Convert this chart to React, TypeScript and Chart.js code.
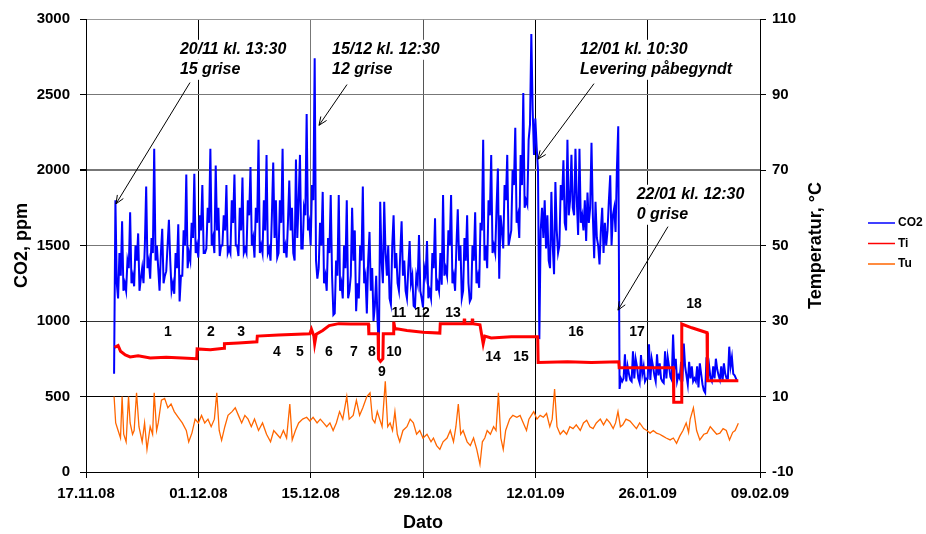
import React, { useEffect, useRef } from 'react';
import { Chart, registerables } from 'chart.js';
Chart.register(...registerables);

const FONT = "'Liberation Sans', Arial, Helvetica, sans-serif";

// x axis: days since 17.11.08
const xTickLabels = ['17.11.08', '01.12.08', '15.12.08', '29.12.08', '12.01.09', '26.01.09', '09.02.09'];

// CO2 (ppm), sampled every 4 h starting 20/11 12:00 (day 3.5)
const co2Start = 3.5;
const co2Step = 1 / 6;
const co2Vals = [
  650, 1800, 1250,
  1150, 1450, 1300, 1660, 1200, 1250,
  1200, 1400, 1350, 1720, 1250, 1300,
  1230, 1500, 1400, 1580, 1200, 1280,
  1350, 1250, 1500, 1890, 1350, 1400,
  1280, 1550, 1450, 2140, 1400, 1500,
  1350, 1200, 1450, 1610, 1250, 1300,
  1330, 1500, 1670, 1400, 1200, 1250,
  1180, 1450, 1350, 1640, 1130, 1300,
  1300, 1600, 1500, 1970, 1350, 1450,
  1400, 1650, 1550, 1975, 1450, 1500,
  1420, 1700, 1600, 1900, 1450, 1450,
  1480, 1750, 1650, 2140, 1500, 1550,
  1450, 2030, 1600, 1750, 1430, 1500,
  1500, 1700, 1600, 1900, 1450, 1480,
  1450, 1800, 1650, 1970, 1500, 1500,
  1430, 1750, 1600, 1950, 1450, 1480,
  1450, 1800, 1700, 2020, 1500, 1550,
  1420, 1750, 1650, 2200, 1450, 1500,
  1450, 1800, 1600, 2100, 1450, 1480,
  1400, 1700, 2050, 1550, 1800, 1420,
  1450, 1800, 1650, 2140, 1450, 1500,
  1420, 1650, 1930, 1600, 1750, 1450,
  1400, 2070, 1550, 1800, 2100, 1480,
  1480, 1750, 1700, 2370, 1600, 1650,
  1500, 1900, 1800, 2740, 1400, 1280,
  1350, 1650, 1500, 1855, 1250, 1300,
  1200, 1550, 1450, 1835, 1300, 1040,
  1050, 1400, 1300, 1835, 1200, 1250,
  1150, 1500, 1350, 1800, 1150, 1200,
  1300, 1750, 1400, 1600, 1065, 1250,
  1150, 1500, 1400, 1890, 1250, 1300,
  1050, 1400, 1590, 1200, 1350, 1000,
  1100, 1300, 1000, 800, 1790, 1400,
  1250, 1790, 1450, 1300, 1500, 1150,
  1110, 1500, 1700, 1350, 1450, 1250,
  1200, 1450, 1660, 1300, 1400, 1200,
  1150, 1350, 1530, 1250, 1300, 1100,
  1090, 1300, 1250, 1570, 1200, 1150,
  1090, 1350, 1300, 1530, 1150, 1200,
  1150, 1450, 1350, 1680, 1200, 1250,
  1200, 1450, 1240, 1835, 1300, 1350,
  1300, 1600, 1500, 1835, 1250, 1300,
  1200, 1500, 1740, 1400, 1500, 1150,
  1200, 1550, 1400, 1700, 1250, 1130,
  1150, 1500, 1400, 1720, 1250, 1300,
  1220, 1650, 1600, 2200, 1400, 1500,
  1350, 1800, 1700, 2100, 1450, 1500,
  1450, 1750, 2010, 1280, 1700, 1600,
  1480, 1900, 1800, 2100, 1500, 1550,
  1600, 2000, 1900, 2280, 1650, 1700,
  1550, 2100, 1900, 2510, 1750, 1800,
  1770, 2200, 2300, 2900, 2400, 2100,
  2340, 2150, 2000, 880, 1600, 1750,
  1550, 1800, 1480, 1700, 1400, 1350,
  1855, 1500, 1310, 1920, 1600, 1450,
  1500, 1900, 1800, 2065, 1650, 1600,
  2200, 1700, 1800, 2100, 1750, 1700,
  2140, 1800, 1570, 2140, 1650, 1700,
  1600, 1800, 1530, 1850, 1650, 1750,
  2180, 1700, 1415, 1790, 1550, 1500,
  1375, 1600, 1750, 1450, 1650, 1500,
  1600, 1800, 1965, 1500, 1700, 1750,
  1590, 2010, 2290, 550, 620, 600,
  620, 780, 600, 700, 650, 610,
  600, 800, 620, 750, 700, 620,
  590, 775, 650, 700, 600, 620,
  620, 845, 610, 750, 700, 640,
  600, 780, 640, 720, 620, 600,
  590, 800, 620, 760, 700, 630,
  610, 910, 680, 750, 600, 640,
  620, 730, 600, 850, 700, 640,
  580, 730, 620, 700, 600, 620,
  600, 700, 560, 720, 650, 580,
  540, 525, 760, 620, 700, 620,
  600, 700, 620, 750, 680, 640,
  610, 700, 600, 720, 650, 620,
  620, 830, 700, 760, 650, 640,
  620, 600,
];

// Indoor temperature Ti (°C)
const tiDays = [3.56, 4.0, 4.3, 4.9, 5.5, 6.5, 8, 10, 12, 13.8, 13.85, 15.5, 17.2, 17.25, 19, 21.3, 21.35, 24, 27.9, 28.1, 28.4, 28.5, 28.7, 29.5, 30.3, 31.5, 33, 35.2, 35.25, 36.4, 36.45, 36.7, 37, 37.05, 38.3, 38.35, 38.5, 40, 42, 44.1, 44.15, 47.1, 47.15, 47.2, 48.1, 48.15, 48.2, 49.1, 49.3, 49.5, 49.7, 50.5, 53, 56.3, 56.35, 60, 63, 66.4, 66.45, 70, 73.2, 73.25, 74.2, 74.25, 75.5, 77.4, 77.45, 81.3];
const tiVals = [23, 23.5, 22, 21, 20.5, 20.8, 20.2, 20.4, 20.2, 20.0, 22.6, 22.4, 22.8, 24, 24.2, 24.5, 26, 26.3, 26.6, 27.8, 26, 24, 26.5, 27.5, 28.8, 29.3, 29.2, 29.2, 26.6, 26.6, 20, 19.3, 20, 26.6, 26.6, 29.8, 28, 27.5, 27, 26.8, 29.3, 29.3, 30.6, 29.3, 29.3, 30.6, 29.3, 29, 26.5, 24, 26, 25.5, 25.8, 25.8, 19, 19.2, 19, 19.2, 17.6, 17.6, 17.6, 8.5, 8.5, 29.2, 28.2, 26.9, 14.2, 14.2];

// Outdoor temperature Tu (°C)
const tuDays = [3.5, 3.7, 4.0, 4.3, 4.5, 4.7, 5.0, 5.3, 5.5, 5.8, 6.0, 6.3, 6.6, 7.0, 7.3, 7.6, 8.0, 8.3, 8.5, 8.8, 9.0, 9.4, 9.8, 10.2, 10.6, 11.0, 11.5, 12.0, 12.5, 12.8, 13.2, 13.6, 14.0, 14.4, 14.8, 15.2, 15.6, 16.0, 16.3, 16.6, 16.9, 17.3, 17.7, 18.2, 18.6, 19.0, 19.4, 19.8, 20.2, 20.6, 21.0, 21.5, 22.0, 22.5, 23.0, 23.4, 23.8, 24.2, 24.6, 25.0, 25.4, 25.7, 26.1, 26.5, 27.0, 27.5, 27.9, 28.3, 28.8, 29.2, 29.6, 30.0, 30.4, 30.8, 31.2, 31.6, 32.0, 32.5, 32.8, 33.3, 33.7, 34.1, 34.5, 35.0, 35.4, 35.7, 36.0, 36.3, 36.6, 36.9, 37.3, 37.6, 37.9, 38.2, 38.5, 38.8, 39.1, 39.5, 40.0, 40.4, 40.8, 41.2, 41.6, 42.0, 42.5, 43.0, 43.3, 43.7, 44.1, 44.5, 45.0, 45.4, 45.8, 46.1, 46.4, 46.7, 47.0, 47.5, 47.9, 48.3, 48.7, 49.1, 49.4, 49.7, 50.0, 50.4, 50.8, 51.1, 51.4, 51.7, 52.0, 52.3, 52.8, 53.2, 53.7, 54.1, 54.5, 54.9, 55.2, 55.5, 55.8, 56.2, 56.6, 57.0, 57.4, 57.8, 58.1, 58.4, 58.7, 59.1, 59.5, 59.9, 60.3, 60.7, 61.1, 61.6, 62.0, 62.4, 62.8, 63.2, 63.6, 64.1, 64.5, 64.9, 65.3, 65.7, 66.0, 66.3, 66.6, 66.9, 67.3, 67.8, 68.2, 68.6, 69.0, 69.5, 69.9, 70.3, 70.7, 71.1, 71.5, 71.9, 72.3, 72.8, 73.2, 73.6, 74.0, 74.4, 74.8, 75.1, 75.3, 75.7, 76.1, 76.5, 77.0, 77.4, 77.8, 78.2, 78.6, 79.0, 79.4, 79.8, 80.2, 80.6, 80.9, 81.3];
const tuVals = [10, 3, 1, -1, 10, 0, -2, 10, 3, 0, 1, 11, 2, -2, 3, -4, 2, 0, 11, 1, 3, 9, 9.5, 7, 8, 6, 4.5, 3, 1, -2, 0.3, 4, 3, 5, 3, 4, 2, 4, 11, 1, -1.6, 2, 5, 6, 7, 5, 3, 5, 4, 2, 4, 1, 3, 0, -2, 1, 0, -1, 1, -1, 8, -1.5, 1, 3, 4, 4.5, 3.5, 4.5, 3, 4, 3, 2, 3, 1, 3, 6, 4, 10, 4, 5, 9, 5, 7, 10, 11, 4, 3, 6, 4, 2, 14, 2, 3, 1, 6, 0, -2, 1, 2, 4, 3, 0, 1, -1, 0, -2, -1, -3, -4, -2, -1, 1, -2, 2, 8, 0, 1, -2, -3, -1, -4, -8, -2, -1, 1, 0, 2, 1, 11, -1, -4, 1, 4, 5, 4.5, 5, 3, 1, 4, 5, 6, 4, 5, 4.5, 5.5, 2, 4, 12, 2, 0, 1, 0, 2, 1.5, 2.5, 1, 3, 3.7, 2, 1.5, 3, 4, 2.5, 4, 3, 1.5, 3, 6, 2, 2.5, 4, 3.5, 2.5, 1.5, 3, 1.5, 1, 0.3, 1, 0.3, 0, -0.5, -1, -1.5, -1, -2.4, -0.5, 1, 3, 0.5, 4, 7, 1, -1.5, 0, 0.3, 2, 1, 0, 0.3, 1.5, 1, -1.5, 0.5, 1, 2.9];

// Event annotations (positions in data units: day, ppm)
const noteLines = [
  ['20/11 kl. 13:30', '15 grise'],
  ['15/12 kl. 12:30', '12 grise'],
  ['12/01 kl. 10:30', 'Levering påbegyndt'],
  ['22/01 kl. 12:30', '0 grise'],
];
const noteTextDay = [11.7, 30.66, 61.57, 68.63];
const noteTextVal = [2796, 2796, 2796, 1836];
const noteTailDay = [12.96, 32.53, 63.31, 72.53];
const noteTailVal = [2579, 2566, 2572, 1625];
const noteTipDay = [3.74, 29.04, 56.33, 66.3];
const noteTipVal = [1776, 2296, 2072, 1072];

// Period numbers
const numTexts = ['1', '2', '3', '4', '5', '6', '7', '8', '9', '10', '11', '12', '13', '14', '15', '16', '17', '18'];
const numDays = [10.22, 15.58, 19.32, 23.8, 26.67, 30.28, 33.4, 35.64, 36.89, 38.38, 39.0, 41.87, 45.74, 50.72, 54.21, 61.07, 68.67, 75.77];
const numVals = [928, 928, 928, 796, 796, 796, 796, 796, 664, 796, 1053, 1053, 1053, 763, 763, 928, 928, 1112];

const legendNames = ['CO2', 'Ti', 'Tu'];
const legendColors = ['#0000FF', '#FF0000', '#FF6600'];

const xGridColors = ['#000', '#000', '#777', '#555', '#000', '#000', '#000'];
const yGridColors = ['#000', '#000', '#333', '#777', '#777', '#777', '#999'];
const yGridWidths = [1, 1, 1, 1, 2, 1, 1];

const overlayPlugin = {
  id: 'overlay',
  afterDraw(chart: any) {
    const { ctx, scales } = chart;
    const xs = scales.x;
    const ys = scales.y;
    ctx.save();
    ctx.font = `bold 14px ${FONT}`;
    ctx.fillStyle = '#000';
    ctx.textAlign = 'center';
    ctx.textBaseline = 'middle';
    numTexts.forEach((t, i) => {
      ctx.fillText(t, xs.getPixelForValue(numDays[i]), ys.getPixelForValue(numVals[i]));
    });
    ctx.font = `italic bold 16px ${FONT}`;
    ctx.textAlign = 'left';
    noteLines.forEach((lines, i) => {
      const tx = xs.getPixelForValue(noteTextDay[i]);
      const ty = ys.getPixelForValue(noteTextVal[i]);
      lines.forEach((ln, j) => {
        const w = ctx.measureText(ln).width;
        ctx.fillStyle = '#fff';
        ctx.fillRect(tx - 2, ty + j * 20 - 10, w + 4, 20);
      });
      ctx.fillStyle = '#000';
      lines.forEach((ln, j) => ctx.fillText(ln, tx, ty + j * 20));
      const x0 = xs.getPixelForValue(noteTailDay[i]);
      const y0 = ys.getPixelForValue(noteTailVal[i]);
      const x1 = xs.getPixelForValue(noteTipDay[i]);
      const y1 = ys.getPixelForValue(noteTipVal[i]);
      ctx.strokeStyle = '#000';
      ctx.lineWidth = 1;
      ctx.beginPath();
      ctx.moveTo(x0, y0);
      ctx.lineTo(x1, y1);
      ctx.stroke();
      const a = Math.atan2(y1 - y0, x1 - x0);
      const L = 9;
      ctx.beginPath();
      ctx.moveTo(x1 - L * Math.cos(a - 0.4), y1 - L * Math.sin(a - 0.4));
      ctx.lineTo(x1, y1);
      ctx.lineTo(x1 - L * Math.cos(a + 0.4), y1 - L * Math.sin(a + 0.4));
      ctx.stroke();
    });
    ctx.save();
    ctx.translate(816, (chart.chartArea.top + chart.chartArea.bottom) / 2);
    ctx.rotate(-Math.PI / 2);
    ctx.font = `bold 18px ${FONT}`;
    ctx.textAlign = 'center';
    ctx.textBaseline = 'middle';
    ctx.fillStyle = '#000';
    ctx.fillText('Temperatur, °C', 0, 0);
    ctx.restore();
    ctx.font = `bold 12px ${FONT}`;
    ctx.textAlign = 'left';
    ctx.textBaseline = 'middle';
    legendNames.forEach((n, i) => {
      const y = 223 + i * 20.5;
      ctx.strokeStyle = legendColors[i];
      ctx.lineWidth = 1.5;
      ctx.beginPath();
      ctx.moveTo(868, y);
      ctx.lineTo(895, y);
      ctx.stroke();
      ctx.fillStyle = '#000';
      ctx.fillText(n, 898, y);
    });
    ctx.restore();
  },
};

export default function App() {
  const ref = useRef<HTMLCanvasElement | null>(null);
  useEffect(() => {
    if (!ref.current) return;
    const co2Data = co2Vals.map((v, i) => ({ x: co2Start + i * co2Step, y: v }));
    const tiData = tiDays.map((d, i) => ({ x: d, y: tiVals[i] }));
    const tuData = tuDays.map((d, i) => ({ x: d, y: tuVals[i] }));
    const tickFont = { family: FONT, size: 15, weight: 'bold' as const };
    const chart = new Chart(ref.current, {
      type: 'line',
      data: {
        datasets: [
          { label: 'CO2', data: co2Data, borderColor: '#0000FF', borderWidth: 2, pointRadius: 0, yAxisID: 'y', order: 1 },
          { label: 'Ti', data: tiData, borderColor: '#FF0000', borderWidth: 3, pointRadius: 0, yAxisID: 'y1', order: 0 },
          { label: 'Tu', data: tuData, borderColor: '#FF6600', borderWidth: 1.3, pointRadius: 0, yAxisID: 'y1', order: 2 },
        ],
      },
      options: {
        responsive: false,
        animation: false,
        events: [],
        layout: { padding: { top: 16, right: 91, left: 0, bottom: 0 } },
        plugins: { legend: { display: false }, tooltip: { enabled: false } },
        elements: { line: { tension: 0 } },
        scales: {
          x: {
            type: 'linear',
            min: 0,
            max: 84,
            afterFit: (s: any) => { s.height = 62; },
            ticks: {
              stepSize: 14,
              color: '#000',
              font: tickFont,
              padding: 7,
              maxRotation: 0,
              autoSkip: false,
              callback: (v: any) => xTickLabels[Math.round(Number(v) / 14)] ?? '',
            },
            grid: {
              color: (c: any) => xGridColors[c.index] ?? '#777',
              tickColor: '#000',
              tickLength: 6,
              lineWidth: 1,
            },
            border: { color: '#000', width: 1 },
            title: { display: true, text: 'Dato', color: '#000', font: { family: FONT, size: 18, weight: 'bold' }, padding: { top: 0, bottom: 0 } },
          },
          y: {
            position: 'left',
            min: 0,
            max: 3000,
            afterFit: (s: any) => { s.width = 86; },
            ticks: { stepSize: 500, color: '#000', font: tickFont, padding: 10, callback: (v: any) => String(v) },
            grid: {
              color: (c: any) => yGridColors[c.index] ?? '#777',
              lineWidth: (c: any) => yGridWidths[c.index] ?? 1,
              tickColor: '#000',
              tickLength: 6,
            },
            border: { color: '#000', width: 1 },
            title: { display: true, text: 'CO2, ppm', color: '#000', font: { family: FONT, size: 18, weight: 'bold' }, padding: { top: 11, bottom: 0 } },
          },
          y1: {
            position: 'right',
            min: -10,
            max: 110,
            afterFit: (s: any) => { s.width = 75; },
            ticks: { stepSize: 20, color: '#000', font: tickFont, padding: 6, callback: (v: any) => String(v) },
            grid: { drawOnChartArea: false, tickColor: '#000', tickLength: 6 },
            border: { color: '#000', width: 1 },
          },
        },
      },
      plugins: [overlayPlugin],
    });
    return () => chart.destroy();
  }, []);
  return (
    <div style={{ position: 'absolute', left: 0, top: 0, width: 926, height: 534, background: '#fff' }}>
      <canvas ref={ref} width={926} height={534} style={{ display: 'block' }} />
    </div>
  );
}
